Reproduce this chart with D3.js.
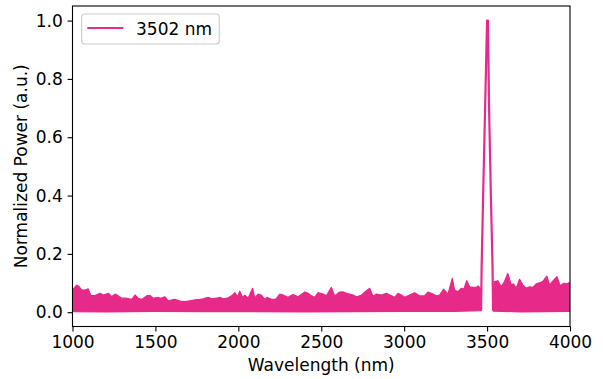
<!DOCTYPE html>
<html>
<head>
<meta charset="utf-8">
<script src="https://cdn.jsdelivr.net/npm/d3@7"></script>
<style>
  html, body { margin: 0; padding: 0; background: #fff; }
  svg { display: block; }
  text { font-family: "DejaVu Sans", sans-serif; }
</style>
</head>
<body>
<div id="chart"></div>
<script>
// ---- data ----
const seriesName = "3502 nm";
const xTicks = [1000, 1500, 2000, 2500, 3000, 3500, 4000];
const yTicks = [0.0, 0.2, 0.4, 0.6, 0.8, 1.0];

// upper envelope of the noisy baseline (wavelength nm, normalized power)
const bandTopWl = [1000,1025,1041,1055,1075,1095,1110,1136,1166,1186,1216,1236,1256,1276,1296,1326,1357,1377,1396,1417,1451,1467,1487,1511,1531,1557,1577,1598,
  1617,1648,1678,1708,1738,1768,1788,1818,1839,1869,1889,1909,1933,1959,1979,1995,2009,2025,2039,2059,2086,2099,2119,2140,2160,2173,2200,
  2225,2250,2270,2300,2330,2360,2401,2421,2441,2461,2481,2511,2531,2561,2581,2611,2631,2652,2672,2692,2712,2742,2772,2792,2812,
  2833,2863,2893,2913,2943,2963,2983,3003,3033,3063,3093,3123,3143,3164,3194,3214,3238,3264,3290,3304,3324,3345,3360,3377,3395,3414,3435,3445,3455,3462,
  3537,3545,3565,3585,3605,3625,3646,3660,3676,3696,3716,3736,3756,3776,3796,3816,3836,3860,3877,3901,3921,3941,3961,3981,3993,4000];
const bandTop = [0.076,0.093,0.087,0.076,0.076,0.080,0.058,0.057,0.065,0.059,0.065,0.053,0.062,0.056,0.048,0.048,0.044,0.059,0.048,0.044,0.057,0.057,0.048,0.051,0.048,0.053,0.039,0.042,
  0.044,0.038,0.036,0.039,0.042,0.044,0.046,0.051,0.046,0.048,0.051,0.046,0.048,0.056,0.067,0.053,0.072,0.051,0.058,0.048,0.082,0.049,0.062,0.058,0.044,0.051,0.044,
  0.044,0.062,0.059,0.051,0.061,0.053,0.069,0.065,0.056,0.051,0.067,0.062,0.056,0.085,0.056,0.069,0.070,0.065,0.062,0.059,0.053,0.058,0.074,0.082,0.055,
  0.062,0.059,0.065,0.059,0.051,0.065,0.059,0.051,0.059,0.067,0.056,0.056,0.069,0.065,0.056,0.059,0.079,0.062,0.116,0.076,0.070,0.082,0.079,0.108,0.087,0.085,0.085,0.090,0.085,0.080,
  0.060,0.105,0.108,0.087,0.105,0.133,0.093,0.097,0.082,0.113,0.093,0.082,0.087,0.085,0.097,0.101,0.105,0.124,0.093,0.110,0.122,0.090,0.099,0.097,0.101,0.100];

// lower envelope of the noisy baseline
const bandLowWl = [1000,1200,1500,1800,2100,2400,2700,3000,3300,3462, 3537,3700,3850,4000];
const bandLow   = [0.002,0.001,0.003,0.002,0.002,0.001,0.002,0.003,0.003,0.005, 0.004,0.001,0.002,0.003];

// the laser line itself
const peakWl  = [3464, 3467, 3477, 3488, 3500, 3505, 3512, 3522, 3533, 3536];
const peakVal = [0.005, 0.155, 0.42, 0.70, 1.0, 1.0, 0.70, 0.42, 0.155, 0.005];

// ---- layout ----
const W = 603, H = 379;
const margin = { left: 72.5, right: 33, top: 6, bottom: 52.5 };
const color = "#e7298a";
const fontSize = 17;

const svg = d3.select("#chart").append("svg").attr("width", W).attr("height", H);

const x = d3.scaleLinear().domain([1000, 4000]).range([margin.left, W - margin.right]);
const y = d3.scaleLinear().domain([-0.049, 1.05]).range([H - margin.bottom, margin.top]);

svg.append("defs").append("clipPath").attr("id", "clip")
  .append("rect")
  .attr("x", x.range()[0]).attr("y", y.range()[1])
  .attr("width", x.range()[1] - x.range()[0])
  .attr("height", y.range()[0] - y.range()[1]);

const plot = svg.append("g").attr("clip-path", "url(#clip)");

// build band segments (left and right of the peak)
const topPts = bandTopWl.map((w, i) => [w, bandTop[i]]);
const lowPts = bandLowWl.map((w, i) => [w, bandLow[i]]);
const segments = [[1000, 3462], [3537, 4000]];
const lineGen = d3.line().x(d => x(d[0])).y(d => y(d[1]));
segments.forEach(([a, b]) => {
  const up = topPts.filter(d => d[0] >= a && d[0] <= b);
  const lo = lowPts.filter(d => d[0] >= a && d[0] <= b).reverse();
  plot.append("path")
    .attr("d", lineGen(up.concat(lo)) + "Z")
    .attr("fill", color)
    .attr("stroke", color)
    .attr("stroke-width", 1.2)
    .attr("stroke-linejoin", "round");
});

plot.append("path")
  .attr("d", lineGen(peakWl.map((w, i) => [w, peakVal[i]])))
  .attr("fill", "none")
  .attr("stroke", color)
  .attr("stroke-width", 2.2)
  .attr("stroke-linejoin", "round");

// axes
const tickLen = 4.9, tickPad = 4.9;
const xAxis = svg.append("g")
  .attr("transform", `translate(0,${y.range()[0]})`)
  .call(d3.axisBottom(x).tickValues(xTicks).tickFormat(d3.format("d")).tickSize(tickLen).tickPadding(tickPad));
const yAxis = svg.append("g")
  .attr("transform", `translate(${x.range()[0]},0)`)
  .call(d3.axisLeft(y).tickValues(yTicks).tickFormat(d3.format(".1f")).tickSize(tickLen).tickPadding(tickPad));
[xAxis, yAxis].forEach(g => {
  g.select(".domain").remove();
  g.selectAll(".tick line").attr("stroke", "#000").attr("stroke-width", 1.1);
  g.selectAll(".tick text").attr("fill", "#000").style("font-size", fontSize + "px")
    .style("font-family", "'DejaVu Sans', sans-serif");
});

// frame
svg.append("rect")
  .attr("x", x.range()[0]).attr("y", y.range()[1])
  .attr("width", x.range()[1] - x.range()[0])
  .attr("height", y.range()[0] - y.range()[1])
  .attr("fill", "none").attr("stroke", "#000").attr("stroke-width", 1.1);

// axis labels
svg.append("text")
  .attr("x", (x.range()[0] + x.range()[1]) / 2).attr("y", 371)
  .attr("text-anchor", "middle").style("font-size", fontSize + "px")
  .text("Wavelength (nm)");
svg.append("text")
  .attr("transform", `translate(27,${(y.range()[0] + y.range()[1]) / 2}) rotate(-90)`)
  .attr("text-anchor", "middle").style("font-size", fontSize + "px")
  .text("Normalized Power (a.u.)");

// legend
const lg = svg.append("g");
lg.append("rect")
  .attr("x", 81.7).attr("y", 14).attr("width", 137.6).attr("height", 30)
  .attr("rx", 3).attr("fill", "#fff").attr("fill-opacity", 0.8)
  .attr("stroke", "#cccccc").attr("stroke-width", 1.1);
lg.append("line")
  .attr("x1", 87.3).attr("x2", 123.3).attr("y1", 28).attr("y2", 28)
  .attr("stroke", color).attr("stroke-width", 2.2);
lg.append("text")
  .attr("x", 136).attr("y", 34.5).style("font-size", fontSize + "px")
  .text(seriesName);
</script>
</body>
</html>
